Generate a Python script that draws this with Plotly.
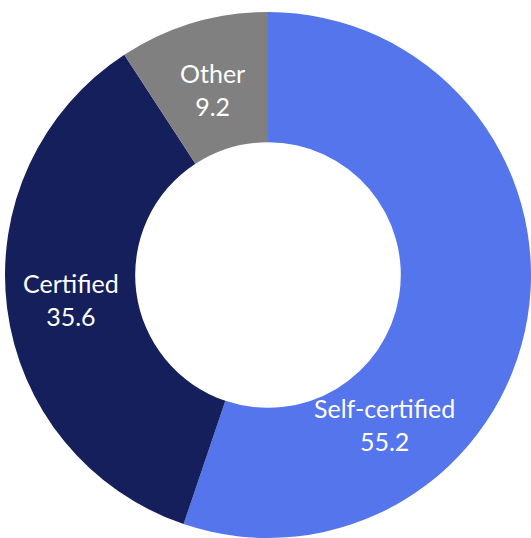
import math
import plotly.graph_objects as go

categories = ["Self-certified", "Certified", "Other"]
values = [55.2, 35.6, 9.2]
colors = ["#5475EB", "#151F5C", "#808080"]

fig = go.Figure(go.Pie(
    labels=categories,
    values=values,
    hole=0.505,
    sort=False,
    direction="clockwise",
    rotation=0,
    marker=dict(colors=colors, line=dict(width=0)),
    textinfo="none",
    hoverinfo="label+value",
    showlegend=False,
    domain=dict(x=[0, 1], y=[0, 1]),
))

# label placement (angle in degrees clockwise from 12 o'clock)
total = sum(values)
cum = 0.0
annotations = []
for i, (cat, val) in enumerate(zip(categories, values)):
    mid = (cum + val / 2) / total * 360
    cum += val
    if i == 0:
        mid = 142.0  # label pulled toward bottom of the slice
        frac = 0.72
    elif i == 1:
        frac = 0.755
    else:
        frac = 0.735
    th = math.radians(mid)
    x = 0.5 + 0.5 * frac * math.sin(th)
    y = 0.5 + 0.5 * frac * math.cos(th)
    annotations.append(dict(
        x=x, y=y, xref="paper", yref="paper",
        text=f"{cat}<br>{val}",
        showarrow=False,
        font=dict(family="Lato, 'Noto Sans', sans-serif", size=25, color="white"),
        align="center", xanchor="center", yanchor="middle",
    ))

fig.update_layout(
    width=531, height=538,
    margin=dict(l=5, r=0, t=12, b=0),
    paper_bgcolor="white",
    plot_bgcolor="white",
    annotations=annotations,
)

fig.write_html(
    "out.html",
    config={"displayModeBar": False},
    post_script="document.body.style.margin='0';document.body.style.overflow='hidden';",
)
